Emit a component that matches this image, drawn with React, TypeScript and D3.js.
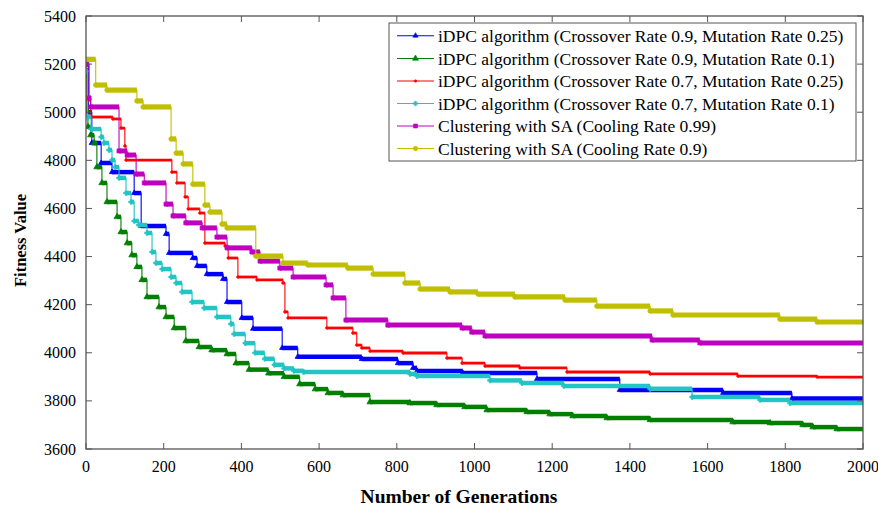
import React from "react";
import * as d3 from "d3";

// ---- Data (step points: [generation, fitness]) ----
const xTicks = [0, 200, 400, 600, 800, 1000, 1200, 1400, 1600, 1800, 2000];
const yTicks = [3600, 3800, 4000, 4200, 4400, 4600, 4800, 5000, 5200, 5400];

const idpc09_025: [number, number][] = [
  [0, 5200], [6, 5000], [15, 4872], [39, 4789], [67, 4751], [124, 4664], [142, 4527],
  [206, 4494], [214, 4415], [275, 4394], [286, 4361], [311, 4327], [353, 4307], [363, 4211],
  [401, 4145], [430, 4100], [505, 4020], [545, 3983], [710, 3974], [803, 3957], [842, 3937],
  [852, 3924], [970, 3916], [1161, 3891], [1374, 3845], [1640, 3833], [1817, 3810],
];
const idpc09_01: [number, number][] = [
  [0, 5150], [2, 5009], [5, 4939], [12, 4905], [21, 4872], [28, 4772], [41, 4706], [54, 4627],
  [80, 4565], [90, 4502], [106, 4456], [118, 4406], [131, 4357], [144, 4303], [157, 4232],
  [188, 4190], [206, 4149], [227, 4103], [257, 4049], [291, 4024], [324, 4011], [363, 3995],
  [386, 3957], [420, 3930], [470, 3915], [510, 3900], [550, 3870], [590, 3849], [623, 3833],
  [662, 3824], [731, 3795], [834, 3791], [903, 3783], [975, 3775], [1032, 3762], [1135, 3754],
  [1194, 3745], [1253, 3737], [1341, 3729], [1452, 3721], [1665, 3712], [1761, 3708],
  [1845, 3700], [1871, 3691], [1933, 3683],
];
const idpc07_025: [number, number][] = [
  [0, 5180], [3, 5050], [12, 4980], [69, 4972], [90, 4934], [100, 4860], [103, 4801],
  [221, 4751], [234, 4706], [255, 4648], [263, 4598], [293, 4581], [306, 4456], [358, 4444],
  [366, 4394], [391, 4315], [440, 4303], [507, 4290], [512, 4170], [520, 4145], [620, 4103],
  [687, 4082], [697, 4032], [710, 4020], [731, 4007], [816, 3999], [929, 3978], [968, 3957],
  [1027, 3945], [1117, 3937], [1238, 3920], [1452, 3912], [1678, 3903], [1882, 3899],
];
const idpc07_01: [number, number][] = [
  [0, 5170], [4, 4980], [13, 4930], [39, 4897], [46, 4872], [59, 4843], [67, 4801], [75, 4772],
  [85, 4727], [103, 4664], [116, 4627], [124, 4548], [136, 4531], [157, 4498], [170, 4419],
  [180, 4373], [196, 4348], [219, 4315], [232, 4290], [247, 4253], [273, 4211], [304, 4186],
  [337, 4149], [373, 4120], [381, 4078], [410, 4040], [435, 4000], [460, 3975], [485, 3950],
  [510, 3935], [535, 3925], [560, 3920], [834, 3912], [852, 3903], [1040, 3885], [1122, 3874],
  [1230, 3862], [1452, 3850], [1560, 3816], [1735, 3804], [1812, 3791],
];
const sa099: [number, number][] = [
  [0, 5200], [8, 5059], [12, 5022], [85, 4839], [106, 4822], [129, 4743], [150, 4706],
  [206, 4618], [224, 4569], [257, 4540], [299, 4519], [337, 4481], [363, 4436], [427, 4419],
  [448, 4381], [499, 4352], [533, 4315], [618, 4282], [636, 4228], [669, 4136], [777, 4115],
  [968, 4103], [993, 4086], [1027, 4070], [1457, 4053], [1580, 4041],
];
const sa09: [number, number][] = [
  [0, 5220], [25, 5113], [54, 5092], [131, 5047], [147, 5022], [219, 4889], [232, 4830],
  [250, 4785], [275, 4701], [306, 4614], [319, 4585], [350, 4535], [363, 4519], [437, 4402],
  [507, 4373], [571, 4365], [674, 4352], [739, 4327], [821, 4290], [860, 4265], [937, 4253],
  [1009, 4244], [1104, 4232], [1233, 4219], [1315, 4194], [1452, 4174], [1511, 4157],
  [1786, 4140], [1882, 4128],
];

const seriesLabels = [
  "iDPC algorithm (Crossover Rate 0.9, Mutation Rate 0.25)",
  "iDPC algorithm (Crossover Rate 0.9, Mutation Rate 0.1)",
  "iDPC algorithm (Crossover Rate 0.7, Mutation Rate 0.25)",
  "iDPC algorithm (Crossover Rate 0.7, Mutation Rate 0.1)",
  "Clustering with SA (Cooling Rate 0.99)",
  "Clustering with SA (Cooling Rate 0.9)",
];
const seriesData = [idpc09_025, idpc09_01, idpc07_025, idpc07_01, sa099, sa09];

const styles = [
  { color: "#0000ff", band: 4.5, symbol: d3.symbolTriangle, msize: 12 },
  { color: "#007f00", band: 4.5, symbol: d3.symbolTriangle, msize: 16 },
  { color: "#ff0000", band: 2.8, symbol: d3.symbolCircle, msize: 5 },
  { color: "#22c4c4", band: 4.5, symbol: d3.symbolCross, msize: 12 },
  { color: "#bf00bf", band: 5, symbol: d3.symbolSquare, msize: 16 },
  { color: "#bfbf00", band: 5.2, symbol: d3.symbolCircle, msize: 16 },
];

const W = 878;
const H = 507;
const L = 86, R = 863, T = 16, B = 449;
const FONT = "'Liberation Serif', 'Times New Roman', serif";
const AXIS = "#555";

export default function App() {
  const x = d3.scaleLinear().domain([0, 2000]).range([L, R]);
  const y = d3.scaleLinear().domain([3600, 5400]).range([B, T]);
  const stepLine = d3
    .line<[number, number]>()
    .x((d) => x(d[0]))
    .y((d) => y(d[1]))
    .curve(d3.curveStepAfter);

  const legendRows = [35.7, 58.5, 81, 103.5, 126, 148.5];

  return (
    <svg
      width={W}
      height={H}
      style={{ position: "absolute", left: 0, top: 0, background: "#fff" }}
      fontFamily={FONT}
    >
      <rect x={0} y={0} width={W} height={H} fill="#fff" />
      <defs>
        <clipPath id="plotclip">
          <rect x={L} y={T} width={R - L} height={B - T} />
        </clipPath>
      </defs>

      <g clipPath="url(#plotclip)">
        {seriesData.map((pts, si) => {
          const st = styles[si];
          const full: [number, number][] = [...pts, [2000, pts[pts.length - 1][1]]];
          const sym = d3.symbol().type(st.symbol).size(st.msize);
          return (
            <g key={si}>
              <path d={stepLine(full) || ""} fill="none" stroke={st.color} strokeWidth={1.1} />
              {pts.map((p, i) => {
                const next = i + 1 < pts.length ? pts[i + 1][0] : 2000;
                return (
                  <line
                    key={i}
                    x1={x(p[0])}
                    x2={x(next)}
                    y1={y(p[1])}
                    y2={y(p[1])}
                    stroke={st.color}
                    strokeWidth={st.band}
                  />
                );
              })}
              {pts.map((p, i) => (
                <path
                  key={"m" + i}
                  d={sym() || ""}
                  transform={`translate(${x(p[0])},${y(p[1])})`}
                  fill={st.color}
                  stroke={st.color}
                  strokeWidth={0.8}
                />
              ))}
            </g>
          );
        })}
      </g>

      {/* axes box */}
      <rect x={L} y={T} width={R - L} height={B - T} fill="none" stroke={AXIS} strokeWidth={1.3} />
      {xTicks.map((t) => (
        <g key={"xt" + t}>
          <line x1={x(t)} x2={x(t)} y1={B} y2={B - 6} stroke={AXIS} strokeWidth={1} />
          <line x1={x(t)} x2={x(t)} y1={T} y2={T + 6} stroke={AXIS} strokeWidth={1} />
          <text x={x(t)} y={466} textAnchor="middle" dominantBaseline="central" fontSize={16} fill="#000">
            {t}
          </text>
        </g>
      ))}
      {yTicks.map((t) => (
        <g key={"yt" + t}>
          <line x1={L} x2={L + 6} y1={y(t)} y2={y(t)} stroke={AXIS} strokeWidth={1} />
          <line x1={R} x2={R - 6} y1={y(t)} y2={y(t)} stroke={AXIS} strokeWidth={1} />
          <text x={76} y={y(t)} textAnchor="end" dominantBaseline="central" fontSize={16} fill="#000">
            {t}
          </text>
        </g>
      ))}

      <text x={459} y={496} textAnchor="middle" dominantBaseline="central" fontSize={19.5} fontWeight="bold">
        Number of Generations
      </text>
      <text
        transform={`translate(20,${(T + B) / 2 + 8}) rotate(-90)`}
        textAnchor="middle"
        dominantBaseline="central"
        fontSize={16.5}
        fontWeight="bold"
      >
        Fitness Value
      </text>

      {/* legend */}
      <rect x={389} y={23} width={467} height={138} fill="#fff" stroke={AXIS} strokeWidth={1} />
      {seriesLabels.map((lab, i) => {
        const st = styles[i];
        const sym = d3.symbol().type(st.symbol).size(st.msize);
        const yy = legendRows[i];
        return (
          <g key={"lg" + i}>
            <line x1={397} x2={434} y1={yy} y2={yy} stroke={st.color} strokeWidth={1.1} />
            <path d={sym() || ""} transform={`translate(415.5,${yy})`} fill={st.color} stroke={st.color} strokeWidth={0.6} />
            <text x={438} y={yy} dominantBaseline="central" fontSize={17.5} fill="#000">
              {lab}
            </text>
          </g>
        );
      })}
    </svg>
  );
}
